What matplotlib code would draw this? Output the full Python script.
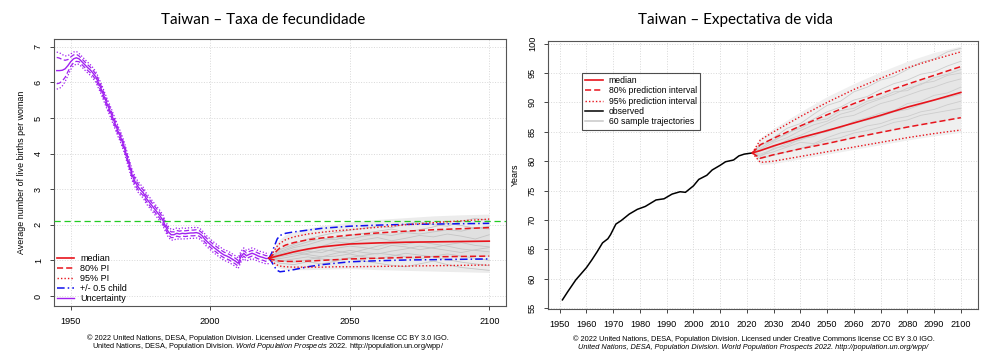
import matplotlib.pyplot as plt
import numpy as np
from matplotlib.lines import Line2D

plt.rcParams['mathtext.fontset'] = 'custom'
plt.rcParams['mathtext.rm'] = 'Liberation Sans'
plt.rcParams['mathtext.it'] = 'Liberation Sans:italic'

# --- Fertility (left) data ---
hist_years = list(range(1945, 2022))
hist_tfr = [6.33, 6.33, 6.34, 6.38, 6.47, 6.58, 6.66, 6.69, 6.66, 6.58,
            6.50, 6.42, 6.35, 6.26, 6.15, 5.98, 5.80, 5.60, 5.40, 5.22,
            5.02, 4.82, 4.62, 4.44, 4.22, 3.95, 3.68, 3.40, 3.22, 3.08,
            2.98, 2.90, 2.75, 2.65, 2.55, 2.45, 2.35, 2.25, 2.13, 1.95,
            1.80, 1.72, 1.72, 1.76, 1.74, 1.76, 1.75, 1.76, 1.77, 1.77,
            1.78, 1.76, 1.70, 1.60, 1.52, 1.45, 1.38, 1.32, 1.26, 1.20,
            1.15, 1.12, 1.08, 1.03, 0.98, 0.92, 1.10, 1.20, 1.13, 1.17,
            1.20, 1.17, 1.13, 1.10, 1.08, 1.05, 1.06]
hist_hw80 = [0.37, 0.35, 0.30, 0.24, 0.17, 0.13, 0.11, 0.10] + [0.08] * 69
hist_hw95 = [0.52, 0.50, 0.44, 0.36, 0.28, 0.22, 0.19, 0.18] + [0.15] * 69

proj_years = [2021, 2022, 2023, 2024, 2025, 2027, 2030, 2035, 2040, 2045,
              2050, 2060, 2070, 2080, 2090, 2100]
tfr_median = [1.06, 1.08, 1.10, 1.12, 1.14, 1.18, 1.24, 1.32, 1.38, 1.42,
              1.46, 1.49, 1.51, 1.52, 1.53, 1.54]
tfr_u80 = [1.06, 1.12, 1.20, 1.28, 1.35, 1.43, 1.50, 1.58, 1.63, 1.67,
           1.71, 1.77, 1.82, 1.86, 1.89, 1.92]
tfr_l80 = [1.06, 1.03, 1.01, 0.99, 0.98, 0.97, 0.97, 0.98, 1.00, 1.02,
           1.04, 1.06, 1.08, 1.10, 1.11, 1.12]
tfr_u95 = [1.06, 1.16, 1.28, 1.40, 1.48, 1.58, 1.66, 1.74, 1.79, 1.83,
           1.86, 1.93, 2.00, 2.06, 2.11, 2.16]
tfr_l95 = [1.06, 0.98, 0.92, 0.87, 0.84, 0.82, 0.81, 0.81, 0.81, 0.82,
           0.82, 0.83, 0.84, 0.85, 0.86, 0.87]
tfr_half_up = [1.06, 1.20, 1.40, 1.60, 1.70, 1.76, 1.80, 1.85, 1.90, 1.93,
               1.96, 1.99, 2.01, 2.02, 2.03, 2.04]
tfr_half_lo = [1.06, 0.96, 0.82, 0.72, 0.68, 0.70, 0.74, 0.82, 0.88, 0.92,
               0.96, 0.99, 1.01, 1.02, 1.03, 1.04]
tfr_traj_up = [1.06, 1.20, 1.35, 1.50, 1.60, 1.72, 1.80, 1.90, 1.98, 2.02,
               2.08, 2.15, 2.20, 2.25, 2.28, 2.30]
tfr_traj_lo = [1.06, 0.95, 0.88, 0.82, 0.78, 0.75, 0.74, 0.74, 0.75, 0.76,
               0.77, 0.74, 0.72, 0.70, 0.68, 0.66]
replacement = 2.1

traj_years_l = [2021, 2025, 2030, 2035, 2040, 2045, 2050, 2055, 2060,
                2065, 2070, 2075, 2080, 2085, 2090, 2095, 2100]
tfr_samples = [
    [1.06, 1.30, 1.45, 1.60, 1.70, 1.78, 1.85, 1.90, 1.96, 1.92, 2.02, 2.08, 2.00, 1.96, 2.10, 2.18, 2.12],
    [1.06, 1.00, 0.95, 1.02, 1.10, 1.12, 1.18, 1.10, 1.05, 1.12, 1.20, 1.15, 1.10, 1.02, 0.95, 0.90, 0.85],
    [1.06, 1.18, 1.30, 1.28, 1.40, 1.52, 1.48, 1.58, 1.64, 1.55, 1.62, 1.70, 1.66, 1.74, 1.68, 1.60, 1.72],
    [1.06, 1.10, 1.18, 1.25, 1.22, 1.34, 1.40, 1.36, 1.30, 1.42, 1.38, 1.30, 1.36, 1.44, 1.50, 1.42, 1.38],
    [1.06, 0.92, 0.88, 0.96, 0.90, 0.98, 1.06, 0.98, 0.92, 0.86, 0.82, 0.90, 0.98, 0.88, 0.80, 0.76, 0.72],
    [1.06, 1.25, 1.40, 1.52, 1.62, 1.58, 1.70, 1.76, 1.82, 1.88, 1.80, 1.86, 1.94, 2.04, 1.98, 1.90, 1.96],
    [1.06, 1.05, 1.12, 1.20, 1.30, 1.26, 1.20, 1.30, 1.40, 1.48, 1.45, 1.52, 1.46, 1.40, 1.32, 1.28, 1.24],
    [1.06, 1.15, 1.22, 1.16, 1.10, 1.20, 1.28, 1.22, 1.18, 1.26, 1.32, 1.40, 1.34, 1.28, 1.22, 1.30, 1.36],
    [1.06, 1.22, 1.36, 1.44, 1.56, 1.64, 1.60, 1.68, 1.74, 1.70, 1.78, 1.74, 1.80, 1.86, 1.82, 1.92, 1.88],
    [1.06, 0.98, 1.04, 1.10, 1.04, 1.00, 1.08, 1.14, 1.20, 1.16, 1.10, 1.04, 1.12, 1.18, 1.12, 1.06, 1.00],
]

# --- Life expectancy (right) data ---
obs_years = [1951, 1953, 1956, 1960, 1962, 1964, 1966, 1968, 1969, 1971,
             1973, 1976, 1979, 1982, 1986, 1989, 1992, 1995, 1997, 2000,
             2002, 2005, 2007, 2010, 2012, 2015, 2017, 2019, 2022]
obs_e0 = [56.4, 57.8, 59.8, 61.9, 63.2, 64.6, 66.1, 66.8, 67.5, 69.3,
          69.9, 71.0, 71.8, 72.3, 73.4, 73.6, 74.4, 74.8, 74.7, 75.8,
          76.9, 77.6, 78.5, 79.3, 79.9, 80.2, 80.9, 81.2, 81.4]

e0_years = [2022, 2025, 2030, 2040, 2050, 2060, 2070, 2080, 2090, 2100]
e0_median = [81.4, 81.8, 82.6, 84.0, 85.2, 86.5, 87.8, 89.2, 90.4, 91.7]
e0_u80 = [81.4, 82.8, 83.9, 86.0, 87.9, 89.8, 91.5, 93.1, 94.6, 96.1]
e0_l80 = [81.4, 80.5, 81.1, 82.1, 83.0, 84.0, 84.9, 85.8, 86.6, 87.4]
e0_u95 = [81.4, 83.6, 85.0, 87.6, 90.0, 92.2, 94.1, 95.9, 97.3, 98.6]
e0_l95 = [81.4, 79.8, 80.0, 80.8, 81.6, 82.4, 83.2, 84.0, 84.7, 85.3]
e0_traj_up = [81.4, 84.0, 85.6, 88.4, 91.0, 93.2, 95.2, 97.0, 98.5, 99.6]
e0_traj_lo = [81.4, 79.4, 79.6, 80.4, 81.2, 82.0, 82.8, 83.6, 84.3, 84.9]

traj_years_r = [2022, 2025, 2030, 2035, 2040, 2045, 2050, 2055, 2060,
                2065, 2070, 2075, 2080, 2085, 2090, 2095, 2100]
e0_samples = [
    [81.4, 82.6, 84.0, 85.6, 86.4, 88.0, 89.5, 90.2, 91.8, 92.6, 93.8, 94.4, 95.6, 96.8, 97.4, 98.6, 99.2],
    [81.4, 81.0, 81.6, 82.4, 83.2, 83.0, 84.0, 84.8, 85.2, 86.0, 86.4, 87.2, 87.6, 88.4, 88.8, 89.6, 90.2],
    [81.4, 82.0, 83.2, 84.0, 85.2, 86.2, 86.8, 88.0, 88.6, 89.8, 90.6, 91.4, 92.4, 93.0, 94.2, 94.8, 95.6],
    [81.4, 80.4, 81.0, 81.6, 82.2, 82.8, 83.6, 84.0, 84.8, 85.2, 85.8, 86.6, 87.0, 87.8, 88.2, 88.6, 89.0],
    [81.4, 81.8, 82.4, 83.6, 84.4, 85.4, 86.4, 87.4, 87.8, 88.8, 89.8, 90.4, 91.2, 92.0, 92.6, 93.4, 94.0],
    [81.4, 82.2, 83.6, 84.6, 86.0, 87.2, 88.4, 89.2, 90.4, 91.0, 92.2, 93.2, 93.8, 94.8, 95.2, 96.2, 97.0],
    [81.4, 81.2, 82.0, 83.0, 83.6, 84.6, 85.0, 85.8, 86.6, 87.0, 87.6, 88.4, 88.8, 89.6, 90.4, 90.8, 91.4],
    [81.4, 82.8, 83.4, 84.8, 85.6, 86.8, 87.2, 88.6, 89.0, 90.2, 90.8, 91.8, 92.0, 93.2, 93.6, 94.6, 95.0],
    [81.4, 80.8, 82.2, 82.6, 83.8, 84.2, 85.4, 85.6, 86.8, 87.4, 88.2, 88.6, 89.8, 90.2, 91.2, 91.6, 92.6],
]

purple = '#a020f0'
red = '#e8141c'
grid_kw = dict(color='#d8d8d8', linestyle=':', linewidth=0.7)
tick_font = 'Liberation Sans'

fig = plt.figure(figsize=(9.81, 3.57), dpi=100)
ax1 = fig.add_axes([0.055, 0.143, 0.4608, 0.748])
ax2 = fig.add_axes([0.5586, 0.1345, 0.4383, 0.7507])

# --- Left: fertility ---
ax1.set_xlim(1944, 2106)
ax1.set_ylim(-0.28, 7.22)
ax1.set_xticks([1950, 2000, 2050, 2100])
ax1.set_yticks(range(0, 8))
for x in [1950, 2000, 2050, 2100]:
    ax1.axvline(x, zorder=0, **grid_kw)
for y in range(0, 8):
    ax1.axhline(y, zorder=0, **grid_kw)

ax1.fill_between(proj_years, tfr_traj_lo, tfr_traj_up, color='#ececec', lw=0, zorder=1)
ax1.fill_between(proj_years, tfr_l80, tfr_u80, color='#e0e0e0', lw=0, zorder=1)
for s in tfr_samples:
    ax1.plot(traj_years_l, s, color='#c4c4c4', lw=0.6, zorder=2)

h = np.array(hist_tfr)
ax1.plot(hist_years, h, color=purple, lw=1.0, zorder=3)
ax1.plot(hist_years, h + np.array(hist_hw80), color=purple, lw=0.9, ls=(0, (4, 2)), zorder=3)
ax1.plot(hist_years, h - np.array(hist_hw80), color=purple, lw=0.9, ls=(0, (4, 2)), zorder=3)
ax1.plot(hist_years, h + np.array(hist_hw95), color=purple, lw=0.9, ls=(0, (1, 1.5)), zorder=3)
ax1.plot(hist_years, h - np.array(hist_hw95), color=purple, lw=0.9, ls=(0, (1, 1.5)), zorder=3)

ax1.axhline(replacement, color='#22cc22', lw=0.9, ls=(0, (5, 3)), zorder=3)
ax1.plot(proj_years, tfr_half_up, color='#1010ee', lw=1.1, ls=(0, (5, 2, 1, 2)), zorder=4)
ax1.plot(proj_years, tfr_half_lo, color='#1010ee', lw=1.1, ls=(0, (5, 2, 1, 2)), zorder=4)
ax1.plot(proj_years, tfr_u95, color=red, lw=1.0, ls=(0, (1, 1.5)), zorder=4)
ax1.plot(proj_years, tfr_l95, color=red, lw=1.0, ls=(0, (1, 1.5)), zorder=4)
ax1.plot(proj_years, tfr_u80, color=red, lw=1.1, ls=(0, (4, 2)), zorder=4)
ax1.plot(proj_years, tfr_l80, color=red, lw=1.1, ls=(0, (4, 2)), zorder=4)
ax1.plot(proj_years, tfr_median, color=red, lw=1.2, zorder=5)

ax1.set_ylabel('Average number of live births per woman', fontsize=6.4,
               family=tick_font, labelpad=6)
ax1.tick_params(labelsize=6.6, length=3, width=0.7, color='#444444', pad=5)
for lab in ax1.get_yticklabels():
    lab.set_rotation(90)
    lab.set_va('center')
    lab.set_family(tick_font)
for lab in ax1.get_xticklabels():
    lab.set_family(tick_font)

leg1 = [
    Line2D([], [], color=red, lw=1.2, label='median'),
    Line2D([], [], color=red, lw=1.1, ls=(0, (4, 2)), label='80% PI'),
    Line2D([], [], color=red, lw=1.0, ls=(0, (1, 1.5)), label='95% PI'),
    Line2D([], [], color='#1010ee', lw=1.1, ls=(0, (5, 2, 1, 2)), label='+/- 0.5 child'),
    Line2D([], [], color=purple, lw=1.0, label='Uncertainty'),
]
ax1.legend(handles=leg1, loc='lower left', bbox_to_anchor=(0.0, 0.0), frameon=False,
           prop={'family': tick_font, 'size': 6.5}, handlelength=1.9,
           handletextpad=0.7, labelspacing=0.12, borderpad=0.3, borderaxespad=0)

# --- Right: life expectancy ---
ax2.set_xlim(1945.6, 2106.4)
ax2.set_ylim(54.85, 100.45)
ax2.set_xticks(range(1950, 2101, 10))
ax2.set_yticks(range(55, 101, 5))
for x in range(1950, 2101, 10):
    ax2.axvline(x, zorder=0, **grid_kw)
for y in range(55, 101, 5):
    ax2.axhline(y, zorder=0, **grid_kw)

ax2.fill_between(e0_years, e0_traj_lo, e0_traj_up, color='#f0f0f0', lw=0, zorder=1)
ax2.fill_between(e0_years, e0_l80, e0_u80, color='#e6e6e6', lw=0, zorder=1)
for s in e0_samples:
    ax2.plot(traj_years_r, s, color='#cdcdcd', lw=0.6, zorder=2)

ax2.plot(obs_years, obs_e0, color='black', lw=1.1, zorder=4)
ax2.plot(e0_years, e0_u95, color=red, lw=1.0, ls=(0, (1, 1.5)), zorder=4)
ax2.plot(e0_years, e0_l95, color=red, lw=1.0, ls=(0, (1, 1.5)), zorder=4)
ax2.plot(e0_years, e0_u80, color=red, lw=1.1, ls=(0, (4, 2)), zorder=4)
ax2.plot(e0_years, e0_l80, color=red, lw=1.1, ls=(0, (4, 2)), zorder=4)
ax2.plot(e0_years, e0_median, color=red, lw=1.2, zorder=5)

ax2.set_ylabel('Years', fontsize=6.4, family=tick_font, labelpad=6)
ax2.tick_params(labelsize=6.6, length=3, width=0.7, color='#444444', pad=5)
for lab in ax2.get_yticklabels():
    lab.set_rotation(90)
    lab.set_va('center')
    lab.set_family(tick_font)
for lab in ax2.get_xticklabels():
    lab.set_family(tick_font)

leg2 = [
    Line2D([], [], color=red, lw=1.2, label='median'),
    Line2D([], [], color=red, lw=1.1, ls=(0, (4, 2)), label='80% prediction interval'),
    Line2D([], [], color=red, lw=1.0, ls=(0, (1, 1.5)), label='95% prediction interval'),
    Line2D([], [], color='black', lw=1.1, label='observed'),
    Line2D([], [], color='#c8c8c8', lw=1.1, label='60 sample trajectories'),
]
lg2 = ax2.legend(handles=leg2, loc='upper left', bbox_to_anchor=(0.079, 0.882),
                 prop={'family': tick_font, 'size': 6.2}, handlelength=2.0,
                 handletextpad=0.7, labelspacing=0.15, borderpad=0.4,
                 borderaxespad=0, fancybox=False)
lg2.get_frame().set_edgecolor('#222222')
lg2.get_frame().set_linewidth(0.8)

for ax in (ax1, ax2):
    for sp in ax.spines.values():
        sp.set_color('#555555')
        sp.set_linewidth(0.8)

# --- Titles ---
fig.text(0.268, 0.943, 'Taiwan \u2013 Taxa de fecundidade', ha='center', va='center',
         fontsize=11, family='Lato')
fig.text(0.75, 0.943, 'Taiwan \u2013 Expectativa de vida', ha='center', va='center',
         fontsize=11, family='Lato')

# --- Footers ---
foot1 = '\u00a9 2022 United Nations, DESA, Population Division. Licensed under Creative Commons license CC BY 3.0 IGO.'
foot2 = r'United Nations, DESA, Population Division. $\it{World\ Population\ Prospects\ 2022}$. http://population.un.org/wpp/'
foot2_it = 'United Nations, DESA, Population Division. World Population Prospects 2022. http://population.un.org/wpp/'
fig.text(0.273, 0.053, foot1, ha='center', va='center', fontsize=5.35, family=tick_font)
fig.text(0.273, 0.030, foot2, ha='center', va='center', fontsize=5.35, family=tick_font)
fig.text(0.768, 0.050, foot1, ha='center', va='center', fontsize=5.35, family=tick_font)
fig.text(0.768, 0.027, foot2_it, ha='center', va='center', fontsize=5.35,
         family=tick_font, style='italic')

fig.savefig('out.png', dpi=100)
